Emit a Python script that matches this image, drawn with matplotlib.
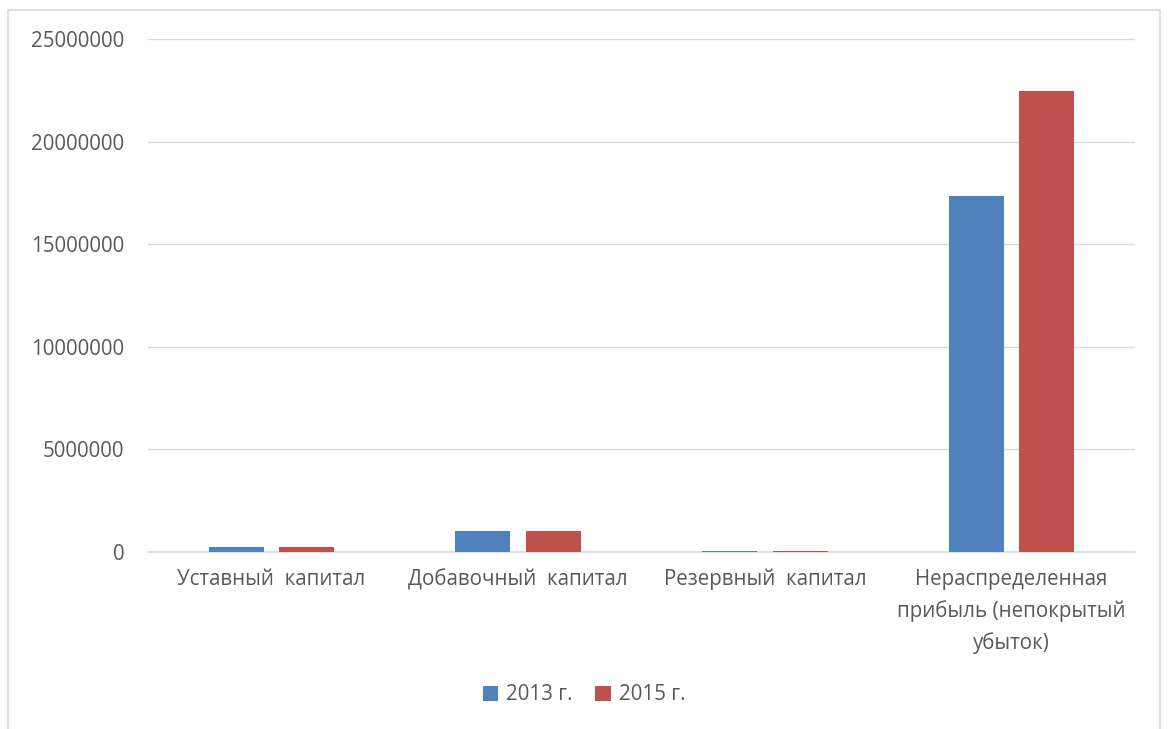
import numpy as np
import matplotlib.pyplot as plt
from matplotlib.patches import Rectangle

categories = ["Уставный  капитал", "Добавочный  капитал", "Резервный  капитал",
              "Нераспределенная\nприбыль (непокрытый\nубыток)"]
series_names = ["2013 г.", "2015 г."]
values_2013 = [220000, 1010000, 30000, 17350000]
values_2015 = [220000, 1010000, 30000, 22470000]
yticks = [0, 5000000, 10000000, 15000000, 20000000, 25000000]

plt.rcParams['font.family'] = ['Open Sans', 'DejaVu Sans']
txt = '#595959'
fs = 14.8

fig = plt.figure(figsize=(11.68, 7.29), dpi=100)
ax = fig.add_axes([148 / 1168, 1 - 552 / 729, (1135 - 148) / 1168, (552 - 39) / 729])

# outer chart frame
fig.patches.append(Rectangle((8 / 1168, -0.05), (1160 - 8) / 1168, 1.05 - 10 / 729,
                             transform=fig.transFigure, fill=False,
                             edgecolor='#d9d9d9', linewidth=1.2))

x = np.arange(len(categories))
w = 0.223
off = 0.143
ax.bar(x - off, values_2013, w, color='#4f81bd', label=series_names[0], zorder=3)
ax.bar(x + off, values_2015, w, color='#c0504d', label=series_names[1], zorder=3)

ax.set_xlim(-0.5, len(categories) - 0.5)
ax.set_ylim(0, 25000000)
ax.set_yticks(yticks)
ax.set_yticklabels([str(v) for v in yticks])
ax.set_xticks(x)
ax.set_xticklabels(categories, fontsize=fs, color=txt, linespacing=1.6, va='top')
ax.tick_params(axis='y', labelsize=fs, labelcolor=txt, length=0, pad=17)
ax.tick_params(axis='x', length=0, pad=12)
ax.grid(axis='y', color='#d9d9d9', linewidth=1, zorder=0)
for s in ['top', 'right', 'left']:
    ax.spines[s].set_visible(False)
ax.spines['bottom'].set_color('#d9d9d9')
ax.spines['bottom'].set_linewidth(1.2)

fig.legend(loc='center', bbox_to_anchor=(0.5, 1 - 695 / 729), ncol=2, frameon=False,
           fontsize=fs, labelcolor=txt, handlelength=0.75, handleheight=0.75,
           handletextpad=0.4, columnspacing=1.1)

fig.savefig('out.png', dpi=100)
